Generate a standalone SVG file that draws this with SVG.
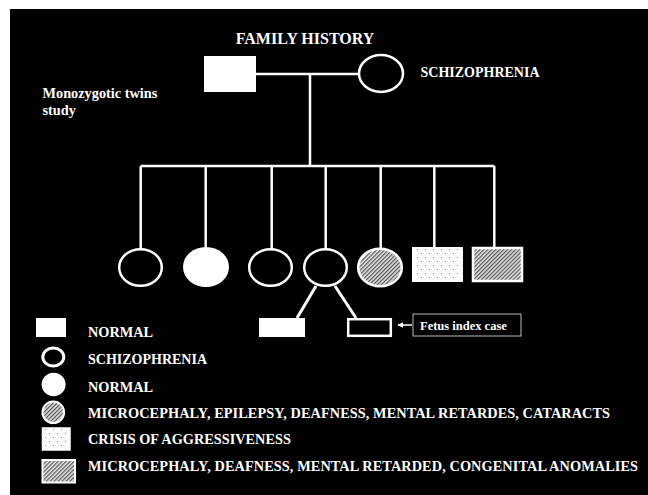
<svg xmlns="http://www.w3.org/2000/svg" width="648" height="495" viewBox="0 0 648 495">
<defs>
<pattern id="hatch" width="2.8" height="2.8" patternUnits="userSpaceOnUse" patternTransform="rotate(45)">
<rect width="2.8" height="2.8" fill="#e6e6e6"/>
<rect width="1.2" height="2.8" fill="#555"/>
</pattern>
<pattern id="dots" width="8" height="8" patternUnits="userSpaceOnUse">
<rect width="8" height="8" fill="#fff"/>
<rect x="1" y="1" width="1" height="1" fill="#888"/>
<rect x="5" y="5" width="1" height="1" fill="#888"/>
</pattern>
<marker id="arr" viewBox="0 0 10 10" refX="9" refY="5" markerWidth="4" markerHeight="4" orient="auto">
<path d="M0,0 L10,5 L0,10 Z" fill="#fff"/>
</marker>
<style>
text{font-family:"Liberation Serif","Times New Roman",serif;font-weight:bold;fill:#fff;}
.t14{font-size:14px;}
.lg{font-size:14.3px;}
.line{stroke:#fff;stroke-width:2.5;fill:none;}
.open{fill:#000;stroke:#fff;stroke-width:2.5;}
.solid{fill:#fff;stroke:none;}
.hat{fill:url(#hatch);stroke:#fff;stroke-width:2.5;}
.dot{fill:url(#dots);stroke:#fff;stroke-width:2;}
</style>
</defs>
<rect x="0" y="0" width="648" height="495" fill="#fff"/>
<rect x="10" y="9" width="638" height="486" fill="#000"/>

<text x="305" y="44.3" text-anchor="middle" style="font-size:16px">FAMILY HISTORY</text>
<g id="notes">
<text class="t14" x="42.5" y="98.3" style="font-size:14.3px">Monozygotic twins</text>
<text class="t14" x="42.5" y="115" style="font-size:14.3px">study</text>
</g>

<g id="connectors">
<line class="line" x1="256" y1="74" x2="359" y2="74"/>
<line class="line" x1="310" y1="74" x2="310" y2="166"/>
<line class="line" x1="140.7" y1="166" x2="494.3" y2="166"/>
<line class="line" x1="140.7" y1="166" x2="140.7" y2="249"/>
<line class="line" x1="205.7" y1="166" x2="205.7" y2="248"/>
<line class="line" x1="271.7" y1="166" x2="271.7" y2="249"/>
<line class="line" x1="325.7" y1="166" x2="325.7" y2="249"/>
<line class="line" x1="380.7" y1="166" x2="380.7" y2="249"/>
<line class="line" x1="434.3" y1="166" x2="434.3" y2="248"/>
<line class="line" x1="494.3" y1="166" x2="494.3" y2="248"/>
<line x1="316" y1="286" x2="297" y2="318" stroke="#fff" stroke-width="3"/>
<line x1="335" y1="286" x2="356" y2="318" stroke="#fff" stroke-width="3"/>
<line x1="412" y1="325" x2="398" y2="325" stroke="#fff" stroke-width="1.5" marker-end="url(#arr)"/>
</g>

<g id="father"><rect class="solid" x="204" y="56" width="52" height="36"/></g>
<g id="mother">
<ellipse class="open" cx="381" cy="73.5" rx="22" ry="18.5"/>
<text class="t14" x="420.5" y="76.5">SCHIZOPHRENIA</text>
</g>

<g id="child1"><ellipse class="open" cx="140.5" cy="267.5" rx="21.3" ry="18.3"/></g>
<g id="child2"><ellipse class="solid" cx="206" cy="267" rx="23" ry="20"/></g>
<g id="child3"><ellipse class="open" cx="270.5" cy="267.5" rx="21.3" ry="18.3"/></g>
<g id="child4"><ellipse class="open" cx="325.5" cy="267.5" rx="21.3" ry="18.3"/></g>
<g id="child5"><ellipse class="hat" cx="380" cy="267.5" rx="21.8" ry="18.8"/></g>
<g id="child6"><rect class="dot" x="413" y="248" width="49" height="33"/></g>
<g id="child7"><rect class="hat" x="473" y="248" width="49" height="33"/></g>

<g id="twin1"><rect class="solid" x="259" y="318" width="46" height="19"/></g>
<g id="twin2"><rect x="348.2" y="319.2" width="42.6" height="16.6" fill="#000" stroke="#fff" stroke-width="2.5"/></g>
<g id="fetus-label">
<rect x="413" y="314" width="108" height="22" fill="#000" stroke="#bbb" stroke-width="1"/>
<text x="420" y="329.5" style="font-size:12.5px">Fetus index case</text>
</g>

<g id="legend">
<rect class="solid" x="36" y="318" width="30" height="19"/>
<text class="lg" x="88" y="336.5">NORMAL</text>
<ellipse cx="53.3" cy="357" rx="10.5" ry="9" fill="#000" stroke="#fff" stroke-width="3"/>
<text class="t14" x="88" y="364">SCHIZOPHRENIA</text>
<ellipse class="solid" cx="53.6" cy="384.5" rx="12" ry="11.7"/>
<text class="lg" x="88" y="391.5">NORMAL</text>
<ellipse cx="53.3" cy="412.3" rx="10.8" ry="10.8" fill="url(#hatch)" stroke="#fff" stroke-width="2"/>
<text class="lg" x="88" y="418" textLength="522" lengthAdjust="spacing">MICROCEPHALY, EPILEPSY, DEAFNESS, MENTAL RETARDES, CATARACTS</text>
<rect x="42.5" y="428" width="27.5" height="22" fill="url(#dots)" stroke="#fff" stroke-width="1.5"/>
<text class="lg" x="88" y="444.3">CRISIS OF AGGRESSIVENESS</text>
<rect x="42.5" y="460" width="32.5" height="22.5" fill="url(#hatch)" stroke="#fff" stroke-width="2"/>
<text class="lg" x="88" y="471" textLength="550" lengthAdjust="spacing">MICROCEPHALY, DEAFNESS, MENTAL RETARDED, CONGENITAL ANOMALIES</text>
</g>
</svg>
